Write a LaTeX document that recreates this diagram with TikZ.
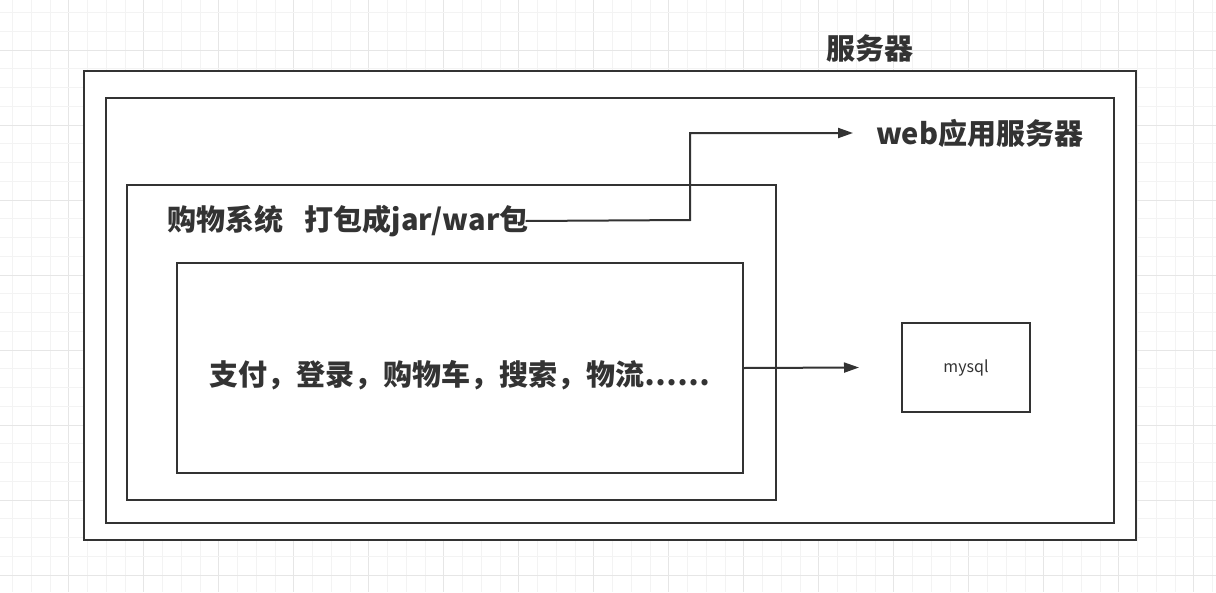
\documentclass[tikz,border=0pt]{standalone}
\usepackage{fontspec}
\setmainfont{Noto Sans CJK SC}
\usepackage{xcolor}
\usetikzlibrary{arrows.meta,positioning}

\definecolor{linegray}{HTML}{333333}
\definecolor{gridminor}{HTML}{F3F3F3}
\definecolor{gridmajor}{HTML}{E6E6E6}

\begin{document}
\begin{tikzpicture}[x=1pt, y=-1pt,
    box/.style={draw=linegray, line width=2pt, fill=white, inner sep=0pt},
    lbl/.style={font=\bfseries\fontsize{29}{35}\selectfont, text=linegray, inner sep=0pt},
    small/.style={font=\fontsize{16}{19}\selectfont, text=linegray, inner sep=0pt},
    flow/.style={draw=linegray, line width=2pt, -{Triangle[length=15pt,width=10pt]}}]
    \useasboundingbox (0,0) rectangle (1216,592);

    % Background grid
    \foreach \i in {0,...,64} {
        \pgfmathtruncatemacro{\m}{mod(\i+1,4)}
        \ifnum\m=0
            \draw[gridmajor, line width=1pt] (12.5+18.75*\i,0) -- (12.5+18.75*\i,592);
        \else
            \draw[gridminor, line width=1pt] (12.5+18.75*\i,0) -- (12.5+18.75*\i,592);
        \fi
    }
    \foreach \j in {0,...,31} {
        \pgfmathtruncatemacro{\m}{mod(\j+2,4)}
        \ifnum\m=0
            \draw[gridmajor, line width=1pt] (0,12.5+18.75*\j) -- (1216,12.5+18.75*\j);
        \else
            \draw[gridminor, line width=1pt] (0,12.5+18.75*\j) -- (1216,12.5+18.75*\j);
        \fi
    }

    % Server
    \node[box, minimum width=1052pt, minimum height=469pt] (server) at (610,305.5) {};
    \node[lbl] (serverlbl) at (870,48) {服务器};

    % Web application server
    \node[box, minimum width=1008pt, minimum height=425pt] (web) at (610,310.5) {};
    \node[lbl, anchor=west] (weblbl) at (876,133) {web应用服务器};

    % Shop system
    \node[box, minimum width=649pt, minimum height=315pt] (shop) at (451.5,342.5) {};
    \node[lbl, anchor=west] (pkglbl) at (167,221) {购物系统\hspace{0.75em}打包成jar/war包};

    % Modules
    \node[box, minimum width=566pt, minimum height=210pt] (core) at (460,368) {};
    \node[lbl] (corelbl) at (460,375) {支付，登录，购物车，搜索，物流……};

    % Database
    \node[box, minimum width=128pt, minimum height=89pt] (db) at (966,367.5) {};
    \node[small] (dblbl) at (db.center) {mysql};

    % Connectors
    \coordinate (bend) at (690,220);
    \draw[flow] ([xshift=-3pt]pkglbl.east) -- (bend) |- ([xshift=-23pt]weblbl.west);
    \draw[flow] (core.east) -- ([xshift=-42pt]db.west);
\end{tikzpicture}
\end{document}
